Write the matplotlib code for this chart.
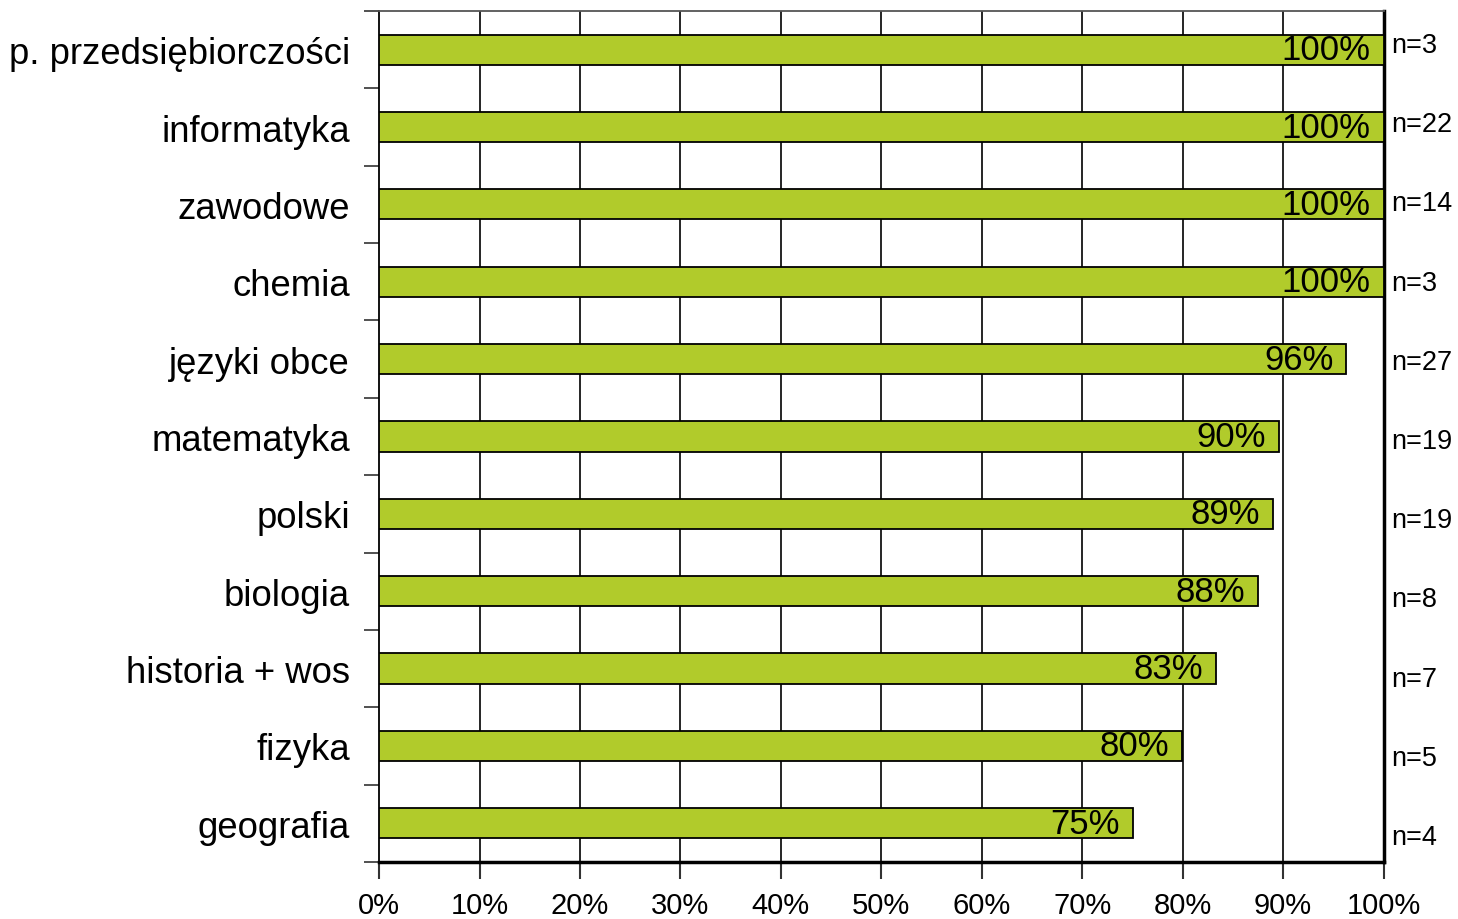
import numpy as np
import matplotlib.pyplot as plt

# Dane z wykresu
przedmioty = ['p. przedsiębiorczości', 'informatyka', 'zawodowe', 'chemia',
              'języki obce', 'matematyka', 'polski', 'biologia',
              'historia + wos', 'fizyka', 'geografia']
procenty = [100, 100, 100, 100, 96.3, 89.6, 89.0, 87.5, 83.3, 79.9, 75.0]
etykiety = ['100%', '100%', '100%', '100%', '96%', '90%', '89%', '88%',
            '83%', '80%', '75%']
liczebnosci = [3, 22, 14, 3, 27, 19, 19, 8, 7, 5, 4]
ticki_x = [0, 10, 20, 30, 40, 50, 60, 70, 80, 90, 100]

plt.rcParams['font.family'] = ['Liberation Sans', 'DejaVu Sans']

fig = plt.figure(figsize=(14.58, 9.2), dpi=100)
ax = fig.add_axes([0.26, 0.062, 0.949 - 0.26, 0.987 - 0.062])

y = np.arange(len(przedmioty))
ax.barh(y, procenty, height=0.39, color='#B1CB2B', edgecolor='black',
        linewidth=1.3, zorder=3)

# Etykiety wartości wewnątrz słupków
for yi, v, e in zip(y, procenty, etykiety):
    ax.text(v - 1.3, yi, e, ha='right', va='center', fontsize=25,
            color='black', zorder=4)

ax.set_xlim(0, 100)
ax.set_ylim(len(przedmioty) - 0.5, -0.5)
ax.set_xticks(ticki_x)
ax.set_xticklabels([f"{t}%" for t in ticki_x], fontsize=21)
ax.set_yticks(y)
ax.set_yticklabels(przedmioty, fontsize=26.3)
ax.tick_params(axis='y', length=0, pad=21)
ax.set_yticks(np.arange(len(przedmioty) + 1) - 0.5, minor=True)
ax.tick_params(axis='y', which='minor', length=11, width=1.2, color='#333333')
ax.tick_params(axis='x', length=12, width=1.5, pad=9, color='#333333')

# Siatka pionowa
for t in ticki_x[1:-1]:
    ax.axvline(t, color='black', linewidth=1.2, zorder=1)

ax.spines['bottom'].set_linewidth(2.5)
ax.spines['right'].set_linewidth(2.5)
ax.spines['left'].set_linewidth(1.3)
ax.spines['top'].set_linewidth(1.3)
ax.spines['top'].set_color('#555555')

# Etykiety n= po prawej stronie
ys = np.linspace(0.960, 0.0294, len(liczebnosci))
for yy, n in zip(ys, liczebnosci):
    ax.text(1.008, yy, f"n={n}", transform=ax.transAxes, ha='left',
            va='center', fontsize=19.5)

fig.savefig('out.png', dpi=100)
